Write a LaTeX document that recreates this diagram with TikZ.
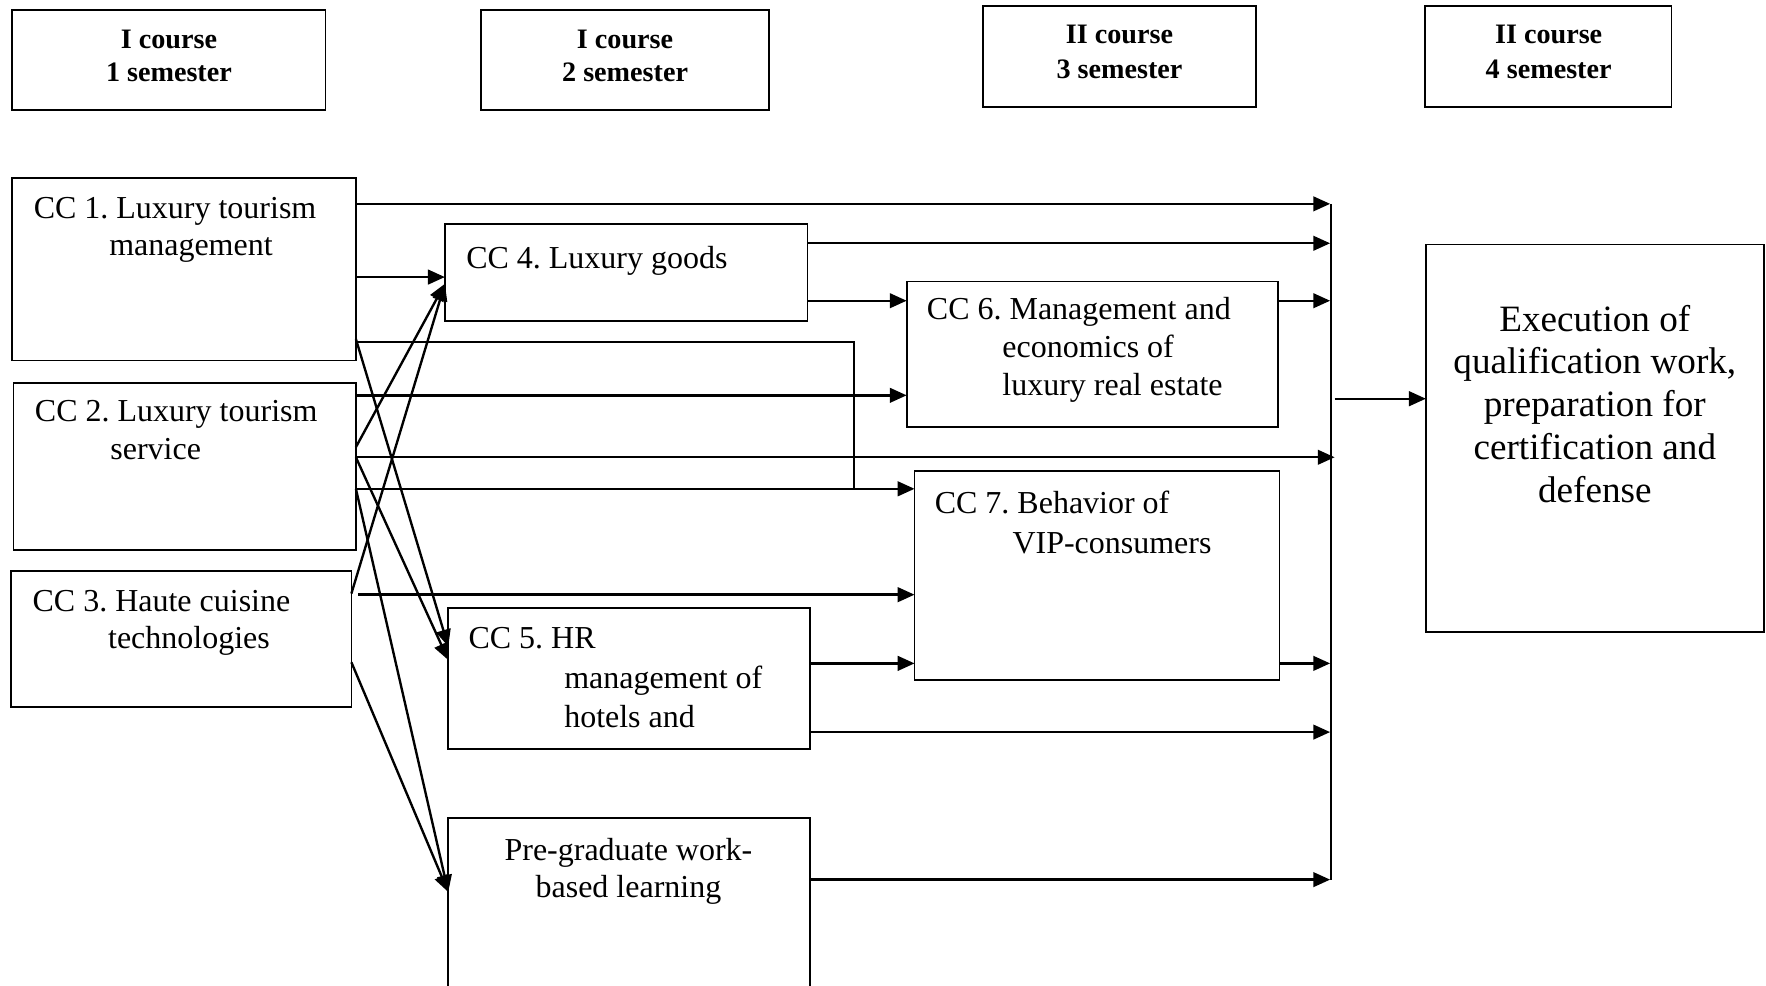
\documentclass[tikz,border=0pt]{standalone}
\usepackage{fontspec}
\setmainfont{Liberation Serif}
\usetikzlibrary{arrows.meta}
\frenchspacing
\tikzset{
 box/.style={draw,line width=1.6pt,rectangle,inner sep=0pt,outer sep=0pt},
 txt/.style={inner sep=0pt,outer sep=0pt,font=\fontsize{28.4}{34}\selectfont},
 htxt/.style={inner sep=0pt,outer sep=0pt,font=\bfseries\fontsize{25}{30}\selectfont},
 etxt/.style={inner sep=0pt,outer sep=0pt,font=\fontsize{33}{38}\selectfont},
 arr/.style={line width=2.1pt,-{Triangle[length=15pt,width=13pt]}},
 ln/.style={line width=1.8pt},
}
\newcommand\mkbox[5]{\node[box,minimum width=#4pt,minimum height=#5pt] (#1) at (#2,#3) {};}
\newcommand\tlw[4]{\node[txt,anchor=base west] (#1) at (#2,#3) {#4};}
\newcommand\thd[4]{\node[htxt,anchor=base] (#1) at (#2,#3) {#4};}
\newcommand\tex[4]{\node[etxt,anchor=base] (#1) at (#2,#3) {#4};}
\newcommand\tpg[4]{\node[txt,anchor=base] (#1) at (#2,#3) {#4};}
\begin{document}
\begin{tikzpicture}[x=1pt,y=-1pt]
\useasboundingbox (0,0) rectangle (1568,875);
\clip (0,0) rectangle (1568,875);
% header boxes
\mkbox{h1}{150}{53.5}{278}{89}
\mkbox{h2}{555}{53.5}{256}{89}
\mkbox{h3}{994}{50}{242}{90}
\mkbox{h4}{1374.5}{50}{219}{90}
\thd{h1a}{150}{43}{I course}
\thd{h1b}{150}{72}{1 semester}
\thd{h2a}{555}{43}{I course}
\thd{h2b}{555}{72}{2 semester}
\thd{h3a}{994}{39}{II course}
\thd{h3b}{994}{70}{3 semester}
\thd{h4a}{1375}{39}{II course}
\thd{h4b}{1375}{70}{4 semester}
% main boxes
\mkbox{cc1}{163.5}{239}{305}{162}
\mkbox{cc2}{164}{414}{304}{148}
\mkbox{cc3}{161}{567.5}{302}{121}
\mkbox{cc4}{556}{242}{322}{86}
\mkbox{cc5}{558.5}{602.5}{321}{125}
\mkbox{pg}{558.5}{813}{321}{174}
\mkbox{cc6}{970}{314.5}{330}{129}
\mkbox{cc7}{974}{511}{324}{186}
\mkbox{ex}{1416}{389}{300}{344}
% texts
\tlw{t1a}{30}{194}{CC 1. Luxury tourism}
\tlw{t1b}{97}{227}{management}
\tlw{t2a}{31}{374}{CC 2. Luxury tourism}
\tlw{t2b}{98}{408}{service}
\tlw{t3a}{29}{543}{CC 3. Haute cuisine}
\tlw{t3b}{96}{576}{technologies}
\tlw{t4a}{414}{238}{CC 4. Luxury goods}
\tlw{t6a}{823}{284}{CC 6. Management and}
\tlw{t6b}{890}{317}{economics of}
\tlw{t6c}{890}{351}{luxury real estate}
\tlw{t7a}{830}{456}{CC 7. Behavior of}
\tlw{t7b}{899}{491}{VIP-consumers}
\tlw{t5a}{416}{576}{CC 5. HR}
\tlw{t5b}{501}{611}{management of}
\tlw{t5c}{501}{646}{hotels and}
\tpg{tpa}{558}{764}{Pre-graduate work-}
\tpg{tpb}{558}{797}{based learning}
\tex{tea}{1416}{294}{Execution of}
\tex{teb}{1416}{332}{qualification work,}
\tex{tec}{1416}{370}{preparation for}
\tex{ted}{1416}{408}{certification and}
\tex{tee}{1416}{446}{defense}
% bus
\coordinate (busT) at (1182,181);
\coordinate (busB) at (1182,781);
\coordinate (bus) at (1181,181);
\coordinate (busx) at (1185,181);
\coordinate (j1) at (758,304);
\coordinate (j2) at (758,434);
\coordinate (c3s) at (318,528);
\draw[ln] (busT) -- (busB);
\draw[arr] (busx |- 0,354) -- (ex.west |- 0,354);
% arrows to bus
\draw[arr] (cc1.east |- 0,181) -- (bus |- 0,181);
\draw[arr] (cc4.east |- 0,216) -- (bus |- 0,216);
\draw[arr] (cc6.east |- 0,267) -- (bus |- 0,267);
\draw[arr] (cc2.east |- 0,406) -- (busx |- 0,406);
\draw[arr] (cc7.east |- 0,589) -- (bus |- 0,589);
\draw[arr] (cc5.east |- 0,650) -- (bus |- 0,650);
\draw[arr] (pg.east |- 0,781) -- (bus |- 0,781);
% horizontal arrows between boxes
\draw[arr] (cc1.east |- 0,246) -- (cc4.west |- 0,246);
\draw[arr] (cc4.east |- 0,267) -- (cc6.west |- 0,267);
\draw[arr] (cc2.east |- 0,351) -- (cc6.west |- 0,351);
\draw[arr] (cc2.east |- 0,434) -- (cc7.west |- 0,434);
\draw[arr] (c3s) -- (cc7.west |- 0,528);
\draw[arr] (cc5.east |- 0,589) -- (cc7.west |- 0,589);
\draw[ln] (cc1.east |- 0,304) -- (j1) -- (j2);
% diagonals
\draw[arr] (cc1.east |- 0,301) -- (cc5.west |- 0,574);
\draw[arr] (cc2.east |- 0,397) -- (cc4.west |- 0,252);
\draw[arr] (cc2.east |- 0,406) -- (cc5.west |- 0,586);
\draw[arr] (cc2.east |- 0,434) -- (pg.west |- 0,792);
\draw[arr] (cc3.east |- 0,527) -- (cc4.west |- 0,252);
\draw[arr] (cc3.east |- 0,588) -- (pg.west |- 0,792);
\end{tikzpicture}
\end{document}
